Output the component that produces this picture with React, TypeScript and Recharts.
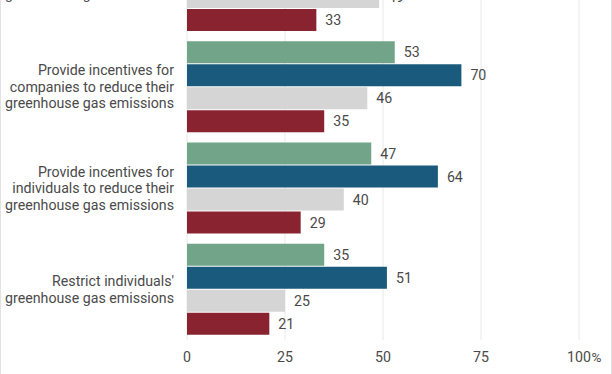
import React from 'react';
import { BarChart, Bar, XAxis, YAxis, CartesianGrid, LabelList } from 'recharts';

// Categories (top one is cropped in the source image)
const categories = [
  "Restrict companies'\ngreenhouse gas emissions",
  'Provide incentives for\ncompanies to reduce their\ngreenhouse gas emissions',
  'Provide incentives for\nindividuals to reduce their\ngreenhouse gas emissions',
  "Restrict individuals'\ngreenhouse gas emissions",
];

const seriesGreen = [62, 53, 47, 35];
const seriesBlue = [78, 70, 64, 51];
const seriesGray = [49, 46, 40, 25];
const seriesRed = [33, 35, 29, 21];

const xTicks = [0, 25, 50, 75, 100];

const data = categories.map((name, i) => ({
  name,
  green: seriesGreen[i],
  blue: seriesBlue[i],
  gray: seriesGray[i],
  red: seriesRed[i],
}));

const FONT = 'Roboto, "Noto Sans", sans-serif';
const TEXT = '#4a4a4a';
const FS = 14.2;

const YTick = (props: any) => {
  const { x, y, payload } = props;
  const lines = String(payload.value).split('\n');
  const lh = 16.5;
  const start = -((lines.length - 1) / 2) * lh;
  return (
    <text x={x} y={y} textAnchor="end" fill={TEXT} fontSize={FS} fontFamily={FONT}>
      {lines.map((l, i) => (
        <tspan key={i} x={x} dy={i === 0 ? start + 5 : lh}>
          {l}
        </tspan>
      ))}
    </text>
  );
};

const XTick = (props: any) => {
  const { x, y, payload } = props;
  const v = payload.value;
  return (
    <g>
      <text x={x} y={y} dy={14} textAnchor="middle" fill={TEXT} fontSize={FS} fontFamily={FONT}>
        {v}
      </text>
      {v === 100 && (
        <text x={x + 12.5} y={y} dy={14} textAnchor="start" fill={TEXT} fontSize={13.5} fontFamily={FONT}>
          %
        </text>
      )}
    </g>
  );
};

const App = () => {
  return (
    <div
      style={{
        position: 'fixed',
        top: 0,
        left: 0,
        width: 612,
        height: 374,
        overflow: 'hidden',
        background: '#fff',
      }}
    >
      <div style={{ position: 'absolute', top: -65, left: 0 }}>
        <BarChart
          width={612}
          height={439}
          data={data}
          layout="vertical"
          margin={{ top: 0, right: 33, left: 0, bottom: 4 }}
          barSize={22}
          barGap={1}
        >
          <CartesianGrid horizontal={false} stroke="#e8e8e8" />
          <XAxis
            type="number"
            domain={[0, 100]}
            ticks={xTicks}
            axisLine={false}
            tickLine={false}
            tickSize={0}
            tickMargin={8}
            height={30}
            tick={<XTick />}
          />
          <YAxis
            type="category"
            dataKey="name"
            width={187}
            axisLine={false}
            tickLine={false}
            tickSize={0}
            tickMargin={13}
            tick={<YTick />}
            interval={0}
          />
          {[
            { key: 'green', fill: '#71a488' },
            { key: 'blue', fill: '#1a5a7c' },
            { key: 'gray', fill: '#d5d5d5' },
            { key: 'red', fill: '#88232f' },
          ].map((s) => (
            <Bar key={s.key} dataKey={s.key} fill={s.fill} isAnimationActive={false}>
              <LabelList
                dataKey={s.key}
                position="right"
                offset={9}
                fill={TEXT}
                fontSize={FS}
                fontFamily={FONT}
              />
            </Bar>
          ))}
        </BarChart>
      </div>
      <div style={{ position: 'absolute', top: 0, left: 0, width: 1, height: 374, background: '#e2e2e2' }} />
      <div style={{ position: 'absolute', top: 0, right: 0, width: 1, height: 374, background: '#e2e2e2' }} />
    </div>
  );
};

export default App;
